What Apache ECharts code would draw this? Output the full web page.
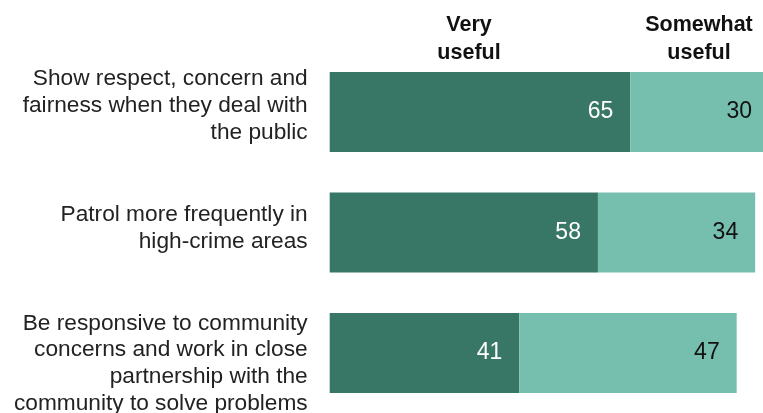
<!DOCTYPE html>
<html>
<head>
<meta charset="utf-8">
<script src="https://cdn.jsdelivr.net/npm/echarts@6/dist/echarts.min.js"></script>
<style>
html,body{margin:0;padding:0;background:#fff;}
#chart{width:763px;height:413px;}
</style>
</head>
<body>
<div id="chart"></div>
<script>
const categories = [
  "Show respect, concern and\nfairness when they deal with\nthe public",
  "Patrol more frequently in\nhigh-crime areas",
  "Be responsive to community\nconcerns and work in close\npartnership with the\ncommunity to solve problems"
];
const seriesNames = ["Very\nuseful", "Somewhat\nuseful"];
const veryUseful = [65, 58, 41];
const somewhatUseful = [30, 34, 47];

const FONT = '"Liberation Sans", Arial, sans-serif';
// vertical nudges of each row's label block: [top spacer, bottom spacer]
const spacers = [[0, 12], [0, 9], [21, 0]];
const lineStyles = ['t', 't', 't3'];

function fmt(value, idx) {
  const lines = value.split('\n');
  const st = lineStyles[idx];
  let out = lines.map(l => '{' + st + '|' + l + '}').join('\n');
  const sp = spacers[idx];
  if (sp[0]) out = '{sp' + sp[0] + '| }\n' + out;
  if (sp[1]) out = out + '\n{sp' + sp[1] + '| }';
  return out;
}
const chart = echarts.init(document.getElementById('chart'));
chart.setOption({
  animation: false,
  backgroundColor: '#fff',
  grid: { left: 329.7, top: 51.75, right: 0, height: 361.5, containLabel: false, outerBoundsMode: 'none' },
  xAxis: { type: 'value', min: 0, max: 93.69, show: false },
  yAxis: {
    type: 'category', data: categories, inverse: true,
    axisLine: { show: false }, axisTick: { show: false },
    axisLabel: {
      margin: 22, align: 'right',
      formatter: fmt,
      rich: {
        t: { fontSize: 22.7, lineHeight: 27.2, color: '#222', fontFamily: FONT, align: 'right' },
        t3: { fontSize: 22.7, lineHeight: 26.7, color: '#222', fontFamily: FONT, align: 'right' },
        sp9: { fontSize: 2, lineHeight: 9 },
        sp12: { fontSize: 2, lineHeight: 12 },
        sp21: { fontSize: 2, lineHeight: 21 }
      }
    }
  },
  graphic: [
    { type: 'text', x: 469, y: 11.5, style: { text: seriesNames[0], font: 'bold 21.5px ' + FONT, fill: '#111', textAlign: 'center', textVerticalAlign: 'top', lineHeight: 27.5 } },
    { type: 'text', x: 699, y: 11.5, style: { text: seriesNames[1], font: 'bold 21.5px ' + FONT, fill: '#111', textAlign: 'center', textVerticalAlign: 'top', lineHeight: 27.5 } }
  ],
  series: [
    { name: seriesNames[0], type: 'bar', stack: 't', data: veryUseful, barWidth: 80, clip: false,
      itemStyle: { color: '#387766' },
      label: { show: true, position: 'insideRight', distance: 17, color: '#fff', fontSize: 23, fontFamily: FONT } },
    { name: seriesNames[1], type: 'bar', stack: 't', data: somewhatUseful, barWidth: 80, clip: false,
      itemStyle: { color: '#76bfae' },
      label: { show: true, position: 'insideRight', distance: 17, color: '#111', fontSize: 23, fontFamily: FONT } }
  ]
});
</script>
</body>
</html>
